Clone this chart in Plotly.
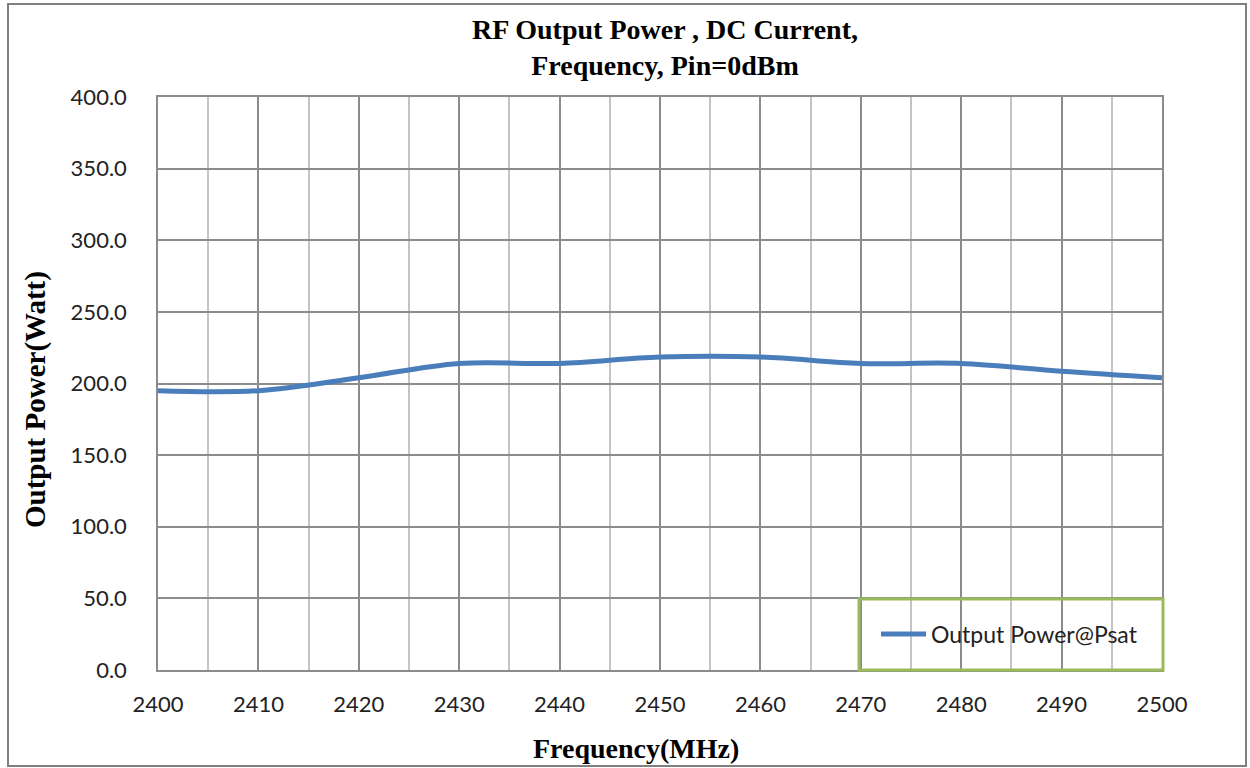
import plotly.graph_objects as go

freq_mhz = [2400, 2410, 2420, 2430, 2440, 2450, 2460, 2470, 2480, 2490, 2500]
output_power_w = [195, 195, 204, 214, 214, 218.5, 218.5, 214, 214, 208.5, 204]
series_name = "Output Power@Psat"
y_tick_vals = [0, 50, 100, 150, 200, 250, 300, 350, 400]
x_tick_vals = list(range(2400, 2501, 10))

L, R, T, B = 158, 88, 97, 98
W, H = 1250, 768
pw, ph = W - L - R, H - T - B

def px_x(p):
    return (p - L) / pw

def px_y(p):
    return (H - B - p) / ph

fig = go.Figure()
fig.add_trace(go.Scatter(
    x=freq_mhz, y=output_power_w, mode="lines", name=series_name,
    line=dict(color="#4A7EBB", width=5, shape="spline", smoothing=1.0),
))

tick_font = dict(family="Lato, Open Sans, sans-serif", size=22, color="#222222")
serif = "Liberation Serif, Times New Roman, serif"

fig.update_layout(
    width=W, height=H,
    margin=dict(l=L, r=R, t=T, b=B),
    paper_bgcolor="white", plot_bgcolor="white",
    title=dict(text="<b>RF Output Power , DC Current,<br>Frequency, Pin=0dBm</b>",
               x=px_x(665), xanchor="center", xref="paper",
               y=1 - 39 / H, yanchor="middle", yref="container",
               font=dict(family=serif, size=28, color="#000000")),
    xaxis=dict(range=[2400, 2500], tickvals=x_tick_vals, tickfont=tick_font,
               showgrid=True, gridcolor="#8C8C8C", gridwidth=1.5,
               minor=dict(dtick=5, tick0=2400, showgrid=True, gridcolor="#C4C4C4", gridwidth=1.5),
               showline=True, linecolor="#8C8C8C", linewidth=1.5, mirror=True,
               ticks="", ticklabelstandoff=14, zeroline=False),
    yaxis=dict(range=[0, 400], tickvals=y_tick_vals, tickformat=".1f", tickfont=tick_font,
               showgrid=True, gridcolor="#8C8C8C", gridwidth=1.5,
               showline=True, linecolor="#8C8C8C", linewidth=1.5, mirror=True,
               ticks="", ticklabelstandoff=25, zeroline=False),
    legend=dict(x=px_x(876), y=px_y(634), xanchor="left", yanchor="middle",
                bgcolor="rgba(255,255,255,0)", borderwidth=0, itemwidth=45,
                font=dict(family="Lato, Open Sans, sans-serif", size=23, color="#222222")),
    showlegend=True,
)

fig.add_annotation(text="<b>Frequency(MHz)</b>", xref="paper", yref="paper",
                   x=px_x(636), y=px_y(748), xanchor="center", yanchor="middle",
                   showarrow=False, font=dict(family=serif, size=28, color="#000000"))
fig.add_annotation(text="<b>Output Power(Watt)</b>", xref="paper", yref="paper",
                   x=px_x(35), y=px_y(400), xanchor="center", yanchor="middle",
                   textangle=-90, showarrow=False,
                   font=dict(family=serif, size=29, color="#000000"))

# legend box
fig.add_shape(type="rect", xref="paper", yref="paper",
              x0=px_x(859), x1=px_x(1163), y0=px_y(670), y1=px_y(599),
              line=dict(color="#9BBB59", width=3), layer="above")

# outer border of chart
fig.add_shape(type="rect", xref="paper", yref="paper",
              x0=px_x(8), x1=px_x(1246), y0=px_y(766), y1=px_y(4),
              line=dict(color="#7F7F7F", width=2), layer="above")

fig.write_html("out.html", config={"displayModeBar": False},
               post_script="document.body.style.margin='0px';")
